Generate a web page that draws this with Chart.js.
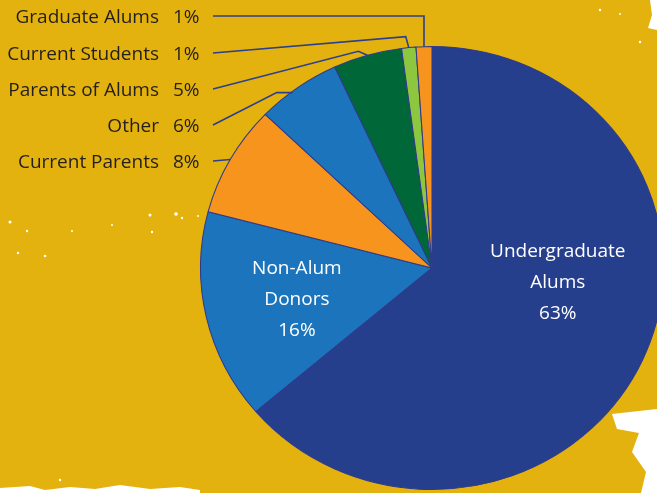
<!DOCTYPE html>
<html>
<head>
<meta charset="utf-8">
<script src="https://cdn.jsdelivr.net/npm/chart.js@4.4.0/dist/chart.umd.min.js"></script>
<style>
  html, body { margin: 0; padding: 0; }
  body { width: 657px; height: 493px; overflow: hidden; background: #E4B20E; position: relative; }
  #c { position: absolute; left: 0; top: 0; }
  svg.bg { position: absolute; left: 0; top: 0; }
</style>
</head>
<body>
<svg class="bg" width="657" height="493">
  <g fill="#ffffff">
    <path d="M0 488 L30 486 L45 490 L70 487 L95 489 L120 485 L150 489 L180 487 L200 490 L200 493 L0 493 Z"/>
    <path d="M612 414 L657 409 L657 493 L641 493 L646 472 L632 452 L639 433 L617 429 Z"/>
    <path d="M650 0 L657 0 L657 30 L648 28 L652 15 Z"/>
    <circle cx="10" cy="222" r="1.5"/><circle cx="27" cy="231" r="1.2"/><circle cx="45" cy="256" r="1.3"/>
    <circle cx="112" cy="225" r="1"/><circle cx="150" cy="215" r="1.5"/><circle cx="176" cy="214" r="1.8"/>
    <circle cx="152" cy="232" r="1.2"/><circle cx="182" cy="218" r="1.2"/><circle cx="198" cy="216" r="1"/>
    <circle cx="18" cy="253" r="1.2"/><circle cx="60" cy="480" r="1.2"/><circle cx="72" cy="231" r="1"/>
    <circle cx="600" cy="10" r="1.2"/><circle cx="620" cy="14" r="1"/><circle cx="640" cy="42" r="1.2"/>
  </g>
</svg>
<canvas id="c" width="657" height="493"></canvas>
<script>
// ---- data ----
const categories = ['Undergraduate Alums', 'Non-Alum Donors', 'Current Parents', 'Other', 'Parents of Alums', 'Current Students', 'Graduate Alums'];
const shares = [63.75, 15.3, 8.1, 5.9, 4.8, 1.0, 1.1];
const shareLabels = ['63%', '16%', '8%', '6%', '5%', '1%', '1%'];
const innerLabelLines = [['Undergraduate', 'Alums', '63%'], ['Non-Alum', 'Donors', '16%']];
const sliceColors = ['#263F8D', '#1C75BC', '#F7941E', '#1C75BC', '#006838', '#8DC63F', '#F7941E'];

// ---- styling ----
const SX = 1.045; // horizontal stretch of the pie
const FONT = '"Open Sans", "Noto Sans", sans-serif';
const LINE_COLOR = '#2B3F8F';
// outer label rows: index -> row y, elbow offsets relative to arc anchor
const outerRows = {
  6: { y: 16, elbow: 'vertical' },
  5: { y: 53, elbow: [-3, -11] },
  4: { y: 89, elbow: [-9, -4] },
  3: { y: 125, elbow: [-16, 0], anchorShift: [-5, 5] },
  2: { y: 161, elbow: null }
};

function arcPoint(arc, angle, r) {
  return { x: arc.x + SX * r * Math.cos(angle), y: arc.y + r * Math.sin(angle) };
}

const stretchPlugin = {
  id: 'stretch',
  beforeDatasetsDraw(chart) {
    const arc = chart.getDatasetMeta(0).data[0];
    const ctx = chart.ctx;
    ctx.save();
    ctx.translate(arc.x, arc.y);
    ctx.scale(SX, 1);
    ctx.translate(-arc.x, -arc.y);
  },
  afterDatasetsDraw(chart) {
    chart.ctx.restore();
  }
};

const labelPlugin = {
  id: 'labels',
  afterDraw(chart) {
    const ctx = chart.ctx;
    const meta = chart.getDatasetMeta(0);
    ctx.save();
    // outer labels with leader lines
    ctx.font = '19px ' + FONT;
    ctx.textBaseline = 'middle';
    ctx.strokeStyle = LINE_COLOR;
    ctx.lineWidth = 1.6;
    Object.keys(outerRows).forEach(k => {
      const i = +k;
      const row = outerRows[i];
      const arc = meta.data[i];
      const mid = (arc.startAngle + arc.endAngle) / 2;
      let p = arcPoint(arc, mid, arc.outerRadius);
      if (row.anchorShift) { p = { x: p.x + row.anchorShift[0], y: p.y + row.anchorShift[1] }; }
      ctx.beginPath();
      ctx.moveTo(p.x, p.y);
      if (row.elbow === 'vertical') {
        ctx.lineTo(p.x, row.y);
      } else if (row.elbow) {
        ctx.lineTo(p.x + row.elbow[0], p.y + row.elbow[1]);
      }
      ctx.lineTo(213, row.y);
      ctx.stroke();
      ctx.fillStyle = '#231F20';
      ctx.textAlign = 'right';
      ctx.fillText(categories[i], 159, row.y + 1.5);
      ctx.textAlign = 'left';
      ctx.fillText(shareLabels[i], 173, row.y + 1.5);
    });
    // inner labels
    ctx.fillStyle = '#ffffff';
    ctx.textAlign = 'center';
    ctx.font = '19px ' + FONT;
    const innerPos = [
      { angle: 96.6, k: 0.547 },
      { angle: 256.6, k: 0.6 }
    ];
    innerLabelLines.forEach((lines, i) => {
      const arc = meta.data[i];
      const a = (innerPos[i].angle - 90) * Math.PI / 180;
      const c = arcPoint(arc, a, arc.outerRadius * innerPos[i].k);
      lines.forEach((t, j) => {
        ctx.fillText(t, c.x, c.y + 1 + (j - 1) * 31);
      });
    });
    ctx.restore();
  }
};

new Chart(document.getElementById('c'), {
  type: 'pie',
  data: {
    labels: categories,
    datasets: [{
      data: shares,
      backgroundColor: sliceColors,
      borderColor: '#2E3A8C',
      borderWidth: 1
    }]
  },
  options: {
    responsive: false,
    animation: false,
    rotation: 0,
    layout: { padding: { top: 46, bottom: 3, left: 210, right: 3 } },
    plugins: { legend: { display: false }, tooltip: { enabled: false } }
  },
  plugins: [stretchPlugin, labelPlugin]
});
</script>
</body>
</html>
